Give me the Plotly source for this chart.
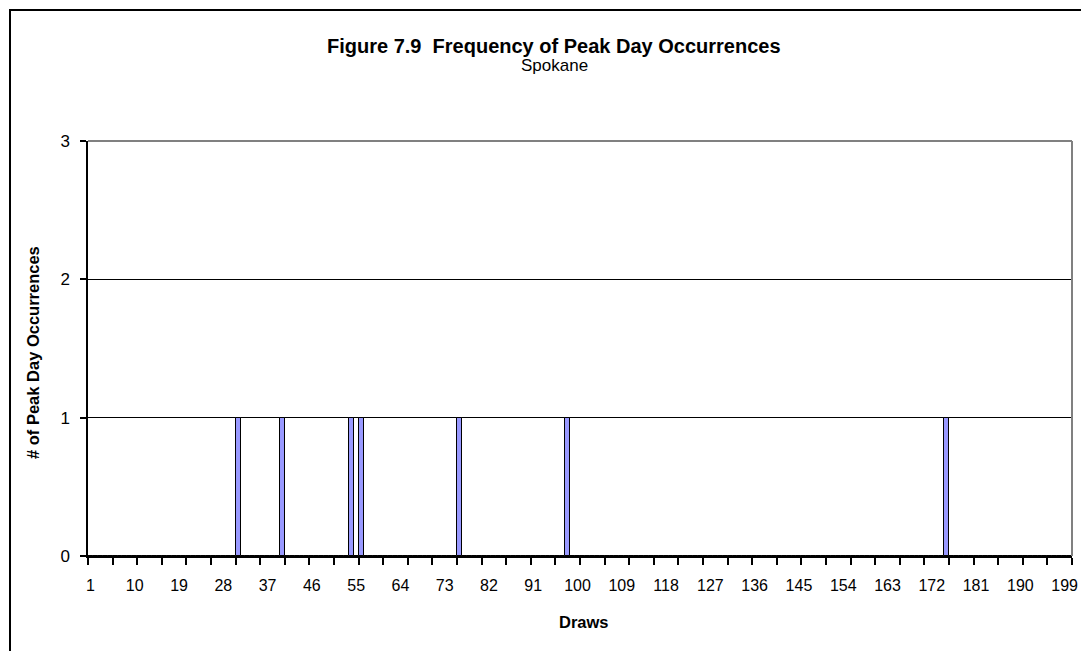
import plotly.graph_objects as go

# ---- data ----
draws = list(range(1, 201))
peak_draws = [31, 40, 54, 56, 76, 98, 175]
peak_counts = [1, 1, 1, 1, 1, 1, 1]
tick_labels = [1, 10, 19, 28, 37, 46, 55, 64, 73, 82, 91, 100, 109, 118,
               127, 136, 145, 154, 163, 172, 181, 190, 199]
y_ticks = [0, 1, 2, 3]

count_map = dict(zip(peak_draws, peak_counts))
counts = [count_map.get(d, 0) for d in draws]

FONT = "Liberation Sans Narrow, Arial Narrow, Liberation Sans, Arial, sans-serif"

W, H = 1081, 651
L, R, T, B = 88, 9, 141, 95
pw = W - L - R
ph = H - T - B

def px_x(p):
    return (p - L) / pw

def px_y(p):
    return (H - B - p) / ph

fig = go.Figure()
fig.add_trace(go.Bar(
    x=draws, y=counts, width=1,
    marker=dict(color="#9999FF", line=dict(color="black", width=1)),
    hoverinfo="x+y",
))

fig.update_layout(
    width=W, height=H,
    margin=dict(l=L, r=R, t=T, b=B, autoexpand=False),
    paper_bgcolor="white", plot_bgcolor="white",
    showlegend=False,
    font=dict(family=FONT, color="black", size=16),
    bargap=0,
    xaxis=dict(
        range=[0.5, 200.5], autorange=False,
        tickmode="array", tickvals=tick_labels,
        ticktext=[str(t) for t in tick_labels],
        ticks="", showgrid=False, zeroline=False,
        showline=True, linecolor="black", linewidth=1.5,
        tickfont=dict(size=16, family=FONT),
        ticklabelstandoff=14,
        minor=dict(ticks="outside", tick0=0.5, dtick=5, ticklen=7,
                   tickcolor="black", tickwidth=1.5, showgrid=False),
        automargin=False,
    ),
    yaxis=dict(
        range=[0, 3], autorange=False,
        tickmode="array", tickvals=y_ticks,
        ticks="outside", ticklen=6, tickcolor="black", tickwidth=1.5,
        showgrid=True, gridcolor="black", gridwidth=1.2,
        zeroline=False,
        showline=True, linecolor="black", linewidth=1.5,
        tickfont=dict(size=17, family=FONT),
        ticklabelstandoff=7,
        automargin=False,
    ),
)

# plot-area top/right border (gray)
fig.add_shape(type="line", xref="paper", yref="paper", x0=0, x1=1, y0=1, y1=1,
              line=dict(color="#808080", width=2), layer="above")
fig.add_shape(type="line", xref="paper", yref="paper", x0=1, x1=1, y0=0, y1=1,
              line=dict(color="#808080", width=2), layer="above")

# outer chart border (extends past the right/bottom edges)
fig.add_shape(type="rect", xref="paper", yref="paper",
              x0=px_x(10), x1=px_x(1110), y0=px_y(700), y1=px_y(10),
              line=dict(color="black", width=2), layer="above")

fig.add_annotation(text="<b>Figure 7.9  Frequency of Peak Day Occurrences</b>",
                   xref="paper", yref="paper", x=px_x(554), y=px_y(46),
                   xanchor="center", yanchor="middle", showarrow=False,
                   font=dict(size=20, family=FONT))
fig.add_annotation(text="Spokane",
                   xref="paper", yref="paper", x=px_x(554), y=px_y(66),
                   xanchor="center", yanchor="middle", showarrow=False,
                   font=dict(size=17, family=FONT))
fig.add_annotation(text="<b># of Peak Day Occurrences</b>",
                   xref="paper", yref="paper", x=px_x(33), y=px_y(353),
                   xanchor="center", yanchor="middle", showarrow=False,
                   textangle=-90, font=dict(size=16.5, family=FONT))
fig.add_annotation(text="<b>Draws</b>",
                   xref="paper", yref="paper", x=px_x(584), y=px_y(622),
                   xanchor="center", yanchor="middle", showarrow=False,
                   font=dict(size=16.5, family=FONT))

fig.write_html("out.html",
               config={"displayModeBar": False},
               post_script="document.body.style.margin='0';document.body.style.overflow='hidden';")
